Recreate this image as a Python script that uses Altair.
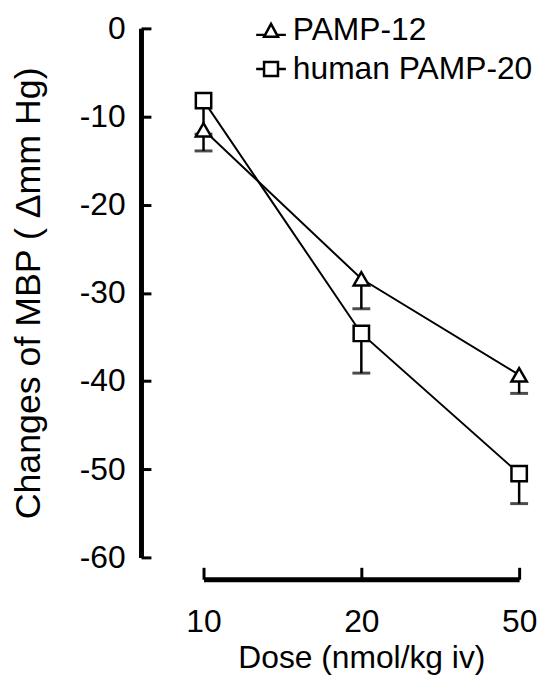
import altair as alt
import pandas as pd

doses = ["10", "20", "50"]
series_names = ["PAMP-12", "human PAMP-20"]
pamp12_mean = [-11.5, -28.4, -39.3]
pamp12_err = [2.4, 3.4, 2.1]
pamp20_mean = [-8.2, -34.6, -50.5]
pamp20_err = [3.8, 4.5, 3.4]
y_ticks = [0, -10, -20, -30, -40, -50, -60]

rows = []
for name, means, errs in [(series_names[0], pamp12_mean, pamp12_err),
                          (series_names[1], pamp20_mean, pamp20_err)]:
    for d, m, e in zip(doses, means, errs):
        rows.append({"dose": d, "series": name, "mean": m, "low": round(m - e, 2)})
df = pd.DataFrame(rows)

FONT = "Liberation Sans"
FS = 32
W, H = 318, 533

xscale = alt.Scale(type="point", padding=0, domain=doses)
yscale = alt.Scale(domain=[-60, 0], nice=False, zero=False)

tri_legend = ("M0,-0.5L0.54,0.5L-0.54,0.5Z"
              "M-1.15,0.35L-0.46,0.35M0.46,0.35L1.15,0.35")
sq_legend = ("M-0.54,-0.54L0.54,-0.54L0.54,0.54L-0.54,0.54Z"
             "M-1.15,0L-0.54,0M0.54,0L1.15,0")

base = alt.Chart(df)

# error bars (carry the inward tick-only axes)
rules = base.mark_rule(color="black", strokeWidth=2.5).encode(
    x=alt.X("dose:O", scale=xscale, sort=doses,
            axis=alt.Axis(orient="top", offset=-(H + 22), ticks=True, tickSize=12,
                          tickWidth=3, tickColor="black", labels=False,
                          domain=False, grid=False, title=None)),
    y=alt.Y("mean:Q", scale=yscale,
            axis=alt.Axis(orient="right", offset=-(W + 63), values=y_ticks,
                          ticks=True, tickSize=10, tickWidth=3, tickColor="black",
                          labels=False, domain=False, grid=False, title=None)),
    y2="low:Q",
)

caps = base.mark_tick(color="black", thickness=3, size=18).encode(
    x=alt.X("dose:O", scale=xscale, sort=doses, axis=None),
    y=alt.Y("low:Q", scale=yscale, axis=None),
)

lines = base.mark_line(color="black", strokeWidth=2).encode(
    x=alt.X("dose:O", scale=xscale, sort=doses,
            axis=alt.Axis(orient="bottom", offset=22, ticks=False, domain=True,
                          domainWidth=5, domainColor="black", labelAngle=0,
                          labelFont=FONT, labelFontSize=FS, labelColor="black",
                          labelPadding=28, grid=False,
                          title="Dose (nmol/kg iv)", titleFont=FONT,
                          titleFontSize=FS, titleFontWeight="normal",
                          titleColor="black", titlePadding=5)),
    y=alt.Y("mean:Q", scale=yscale,
            axis=alt.Axis(orient="left", offset=63, values=y_ticks, ticks=False,
                          domain=True, domainWidth=5, domainColor="black",
                          labelExpr="datum.value == 0 ? '0' : '-' + abs(datum.value)",
                          labelFont=FONT, labelFontSize=FS, labelColor="black",
                          labelPadding=16, grid=False,
                          title="Changes of MBP ( \u0394mm Hg)", titleFont=FONT,
                          titleFontSize=36, titleFontWeight="normal",
                          titleColor="black", titlePadding=32)),
    detail="series:N",
)

points = base.mark_point(filled=True, fill="white", stroke="black",
                         strokeWidth=2.5, size=240, opacity=1).encode(
    x=alt.X("dose:O", scale=xscale, sort=doses, axis=None),
    y=alt.Y("mean:Q", scale=yscale, axis=None),
    shape=alt.Shape("series:N",
                    scale=alt.Scale(domain=series_names, range=["triangle-up", "square"]),
                    legend=None),
)

legend_layer = base.transform_filter("false").mark_point(
    color="black", size=676, strokeWidth=2.5).encode(
    x=alt.X("dose:O", scale=xscale, sort=doses, axis=None),
    y=alt.Y("mean:Q", scale=yscale, axis=None),
    shape=alt.Shape("series:N",
                    scale=alt.Scale(domain=series_names, range=[tri_legend, sq_legend]),
                    legend=alt.Legend(orient="none", legendX=52, legendY=-14,
                                      title=None, symbolSize=676,
                                      symbolStrokeColor="black",
                                      symbolStrokeWidth=2.5, symbolOpacity=1,
                                      labelFont=FONT, labelFontSize=FS,
                                      labelColor="black", labelOffset=6,
                                      labelLimit=400, rowPadding=7)),
)

chart = alt.layer(rules, caps, lines, points, legend_layer).resolve_axis(
    x="independent", y="independent"
).resolve_scale(
    shape="independent"
).properties(
    width=W, height=H,
    autosize=alt.AutoSizeParams(type="none"),
    padding={"left": 197, "top": 18, "right": 20, "bottom": 119},
    background="white",
).configure_view(stroke=None)

chart.save("out.html", embed_options={"renderer": "svg", "actions": False})
